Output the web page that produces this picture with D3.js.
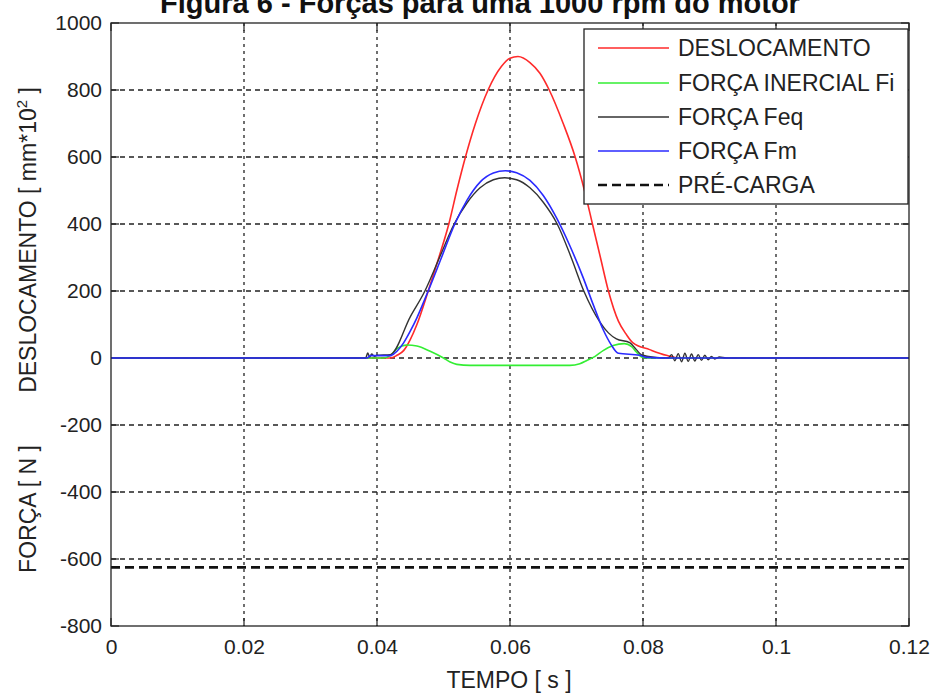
<!DOCTYPE html>
<html><head><meta charset="utf-8">
<script src="https://cdn.jsdelivr.net/npm/d3@7"></script>
<style>
body{margin:0;background:#fff;}
text{font-family:Arial,"Liberation Sans",Helvetica,sans-serif;}
</style>
</head><body>
<svg id="chart" width="938" height="693"></svg>
<script>
// ---- data ----
const titleText = "Figura 6 - Forças para uma 1000 rpm do motor";
const xTicks = [0, 0.02, 0.04, 0.06, 0.08, 0.1, 0.12];
const xTickLabels = ["0", "0.02", "0.04", "0.06", "0.08", "0.1", "0.12"];
const yTicks = [-800, -600, -400, -200, 0, 200, 400, 600, 800, 1000];
const yTickLabels = ["-800", "-600", "-400", "-200", "0", "200", "400", "600", "800", "1000"];
const legendLabels = ["DESLOCAMENTO", "FORÇA INERCIAL Fi", "FORÇA Feq", "FORÇA Fm", "PRÉ-CARGA"];

const deslocT = [0, 0.042, 0.043, 0.044, 0.045, 0.046, 0.0477, 0.0493, 0.0508, 0.052, 0.0533, 0.0548, 0.0567, 0.0587, 0.060, 0.0612, 0.063, 0.0645, 0.0659, 0.068, 0.0698, 0.0712, 0.0724, 0.0736, 0.0748, 0.0763, 0.0775, 0.0785, 0.081, 0.0835, 0.0855, 0.12];
const deslocV = [0, 0, 8, 22, 55, 100, 200, 300, 400, 500, 600, 700, 800, 870, 895, 900, 882, 850, 800, 700, 600, 500, 400, 300, 200, 110, 70, 45, 25, 8, 0, 0];

const inercT = [0, 0.041, 0.042, 0.043, 0.0445, 0.046, 0.048, 0.050, 0.051, 0.052, 0.054, 0.060, 0.069, 0.0705, 0.0715, 0.0728, 0.074, 0.0755, 0.0772, 0.0783, 0.079, 0.0798, 0.0805, 0.12];
const inercV = [0, 0, 8, 28, 39, 36, 20, 0, -12, -19, -22, -22, -22, -17, -8, 5, 22, 37, 43, 34, 18, 3, 0, 0];

const feqT = [0, 0.0383, 0.0386, 0.0389, 0.0392, 0.0396, 0.040, 0.042, 0.045, 0.0472, 0.0494, 0.0516, 0.0535, 0.0555, 0.0575, 0.0592, 0.061, 0.063, 0.065, 0.0671, 0.0692, 0.0711, 0.0735, 0.0748, 0.076, 0.078, 0.079, 0.0798, 0.082, 0.0838, 0.0843, 0.0848, 0.0853, 0.0858, 0.0863, 0.0868, 0.0873, 0.0878, 0.0883, 0.0888, 0.0893, 0.0898, 0.0903, 0.0908, 0.0915, 0.0925, 0.12];
const feqV = [0, 0, 15, 3, 12, 5, 8, 10, 123, 200, 300, 400, 462, 508, 532, 538, 532, 508, 465, 400, 300, 200, 108, 75, 57, 46, 25, 9, 2, 0, 10, -8, 13, -11, 14, -10, 12, -9, 10, -7, 8, -5, 5, -3, 3, 0, 0];

const fmT = [0, 0.0385, 0.039, 0.042, 0.0422, 0.043, 0.044, 0.045, 0.046, 0.0477, 0.0497, 0.0517, 0.0535, 0.0555, 0.0575, 0.0593, 0.061, 0.063, 0.065, 0.067, 0.069, 0.071, 0.0725, 0.074, 0.0752, 0.0763, 0.0795, 0.0805, 0.084, 0.12];
const fmV = [0, 0, 7, 7, 8, 20, 45, 80, 120, 200, 300, 400, 470, 525, 552, 559, 553, 530, 485, 418, 335, 240, 160, 85, 40, 14, 8, 2, 0, 0];

const precargaT = [0, 0.12];
const precargaV = [-625, -625];

// ---- layout ----
const W = 938, H = 693;
const FONT = "Arial, 'Liberation Sans', sans-serif";
const svg = d3.select("#chart");
svg.append("rect").attr("width", W).attr("height", H).attr("fill", "#fff");

const x = d3.scaleLinear().domain([0, 0.12]).range([111, 909]);
const y = d3.scaleLinear().domain([-800, 1000]).range([626, 23]);

// title (cut at the top edge, as in the reference)
svg.append("text").attr("x", 480).attr("y", 13).attr("text-anchor", "middle")
  .attr("font-size", 29).attr("font-weight", "bold").attr("fill", "#111").text(titleText);

// grid
const grid = svg.append("g");
grid.selectAll("line.gx").data(xTicks.slice(1, -1)).join("line")
  .attr("x1", d => x(d)).attr("x2", d => x(d)).attr("y1", y(1000)).attr("y2", y(-800))
  .attr("stroke", "#222").attr("stroke-width", 1.3).attr("stroke-dasharray", "3,4");
grid.selectAll("line.gy").data(yTicks.slice(1, -1)).join("line")
  .attr("x1", x(0)).attr("x2", x(0.12)).attr("y1", d => y(d)).attr("y2", d => y(d))
  .attr("stroke", "#222").attr("stroke-width", 1.3).attr("stroke-dasharray", "5,4");

// axes
const xAxis = d3.axisBottom(x).tickValues(xTicks).tickFormat((d, i) => xTickLabels[i]).tickSize(0).tickPadding(13);
const gx = svg.append("g").attr("transform", `translate(0,${y(-800)})`).call(xAxis);
gx.select(".domain").remove();
gx.selectAll("text").attr("font-size", 21).attr("fill", "#222").attr("font-family", FONT);

const yAxis = d3.axisLeft(y).tickValues(yTicks).tickFormat((d, i) => yTickLabels[i]).tickSize(0).tickPadding(9);
const gy = svg.append("g").attr("transform", `translate(${x(0)},0)`).call(yAxis);
gy.select(".domain").remove();
gy.selectAll("text").attr("font-size", 21).attr("fill", "#222").attr("font-family", FONT);

// inner tick marks on all sides
const tk = svg.append("g").attr("stroke", "#222").attr("stroke-width", 1.2);
xTicks.forEach(t => {
  tk.append("line").attr("x1", x(t)).attr("x2", x(t)).attr("y1", y(-800)).attr("y2", y(-800) - 8);
  tk.append("line").attr("x1", x(t)).attr("x2", x(t)).attr("y1", y(1000)).attr("y2", y(1000) + 8);
});
yTicks.forEach(v => {
  tk.append("line").attr("x1", x(0)).attr("x2", x(0) + 8).attr("y1", y(v)).attr("y2", y(v));
  tk.append("line").attr("x1", x(0.12)).attr("x2", x(0.12) - 8).attr("y1", y(v)).attr("y2", y(v));
});

// series
const mk = (T, V) => T.map((t, i) => [t, V[i]]);
const line = d3.line().x(d => x(d[0])).y(d => y(d[1])).curve(d3.curveMonotoneX);
const series = [
  {data: mk(deslocT, deslocV), color: "#ff2a2a", w: 1.6, dash: null},
  {data: mk(inercT, inercV), color: "#33ee33", w: 1.6, dash: null},
  {data: mk(feqT, feqV), color: "#333333", w: 1.4, dash: null},
  {data: mk(fmT, fmV), color: "#2a2aff", w: 1.6, dash: null},
  {data: mk(precargaT, precargaV), color: "#111111", w: 2.6, dash: "9,5"}
];
svg.append("g").selectAll("path").data(series).join("path")
  .attr("d", d => line(d.data)).attr("fill", "none")
  .attr("stroke", d => d.color).attr("stroke-width", d => d.w)
  .attr("stroke-dasharray", d => d.dash);

// frame
svg.append("rect").attr("x", x(0)).attr("y", y(1000)).attr("width", x(0.12) - x(0)).attr("height", y(-800) - y(1000))
  .attr("fill", "none").attr("stroke", "#222").attr("stroke-width", 1.3);

// legend
const lg = svg.append("g");
lg.append("rect").attr("x", 584).attr("y", 29).attr("width", 324).attr("height", 175)
  .attr("fill", "#fff").attr("stroke", "#222").attr("stroke-width", 1.3);
const ly = [48, 83, 117, 151, 185];
series.forEach((s, i) => {
  lg.append("line").attr("x1", 598).attr("x2", 669).attr("y1", ly[i]).attr("y2", ly[i])
    .attr("stroke", s.color).attr("stroke-width", s.w).attr("stroke-dasharray", s.dash);
  lg.append("text").attr("x", 678).attr("y", ly[i] + 8).attr("font-size", 23).attr("fill", "#222").text(legendLabels[i]);
});

// axis labels
svg.append("text").attr("x", 509).attr("y", 688).attr("text-anchor", "middle")
  .attr("font-size", 23).attr("fill", "#222").text("TEMPO [ s ]");
svg.append("text").attr("transform", "translate(36,509) rotate(-90)").attr("text-anchor", "middle")
  .attr("font-size", 23).attr("fill", "#222").text("FORÇA [ N ]");
const yl2 = svg.append("text").attr("transform", "translate(36,240) rotate(-90)").attr("text-anchor", "middle")
  .attr("font-size", 23).attr("fill", "#222");
yl2.append("tspan").text("DESLOCAMENTO [ mm*10");
yl2.append("tspan").attr("font-size", 15).attr("dy", -9).text("2");
yl2.append("tspan").attr("dy", 9).text(" ]");
</script>
</body></html>
